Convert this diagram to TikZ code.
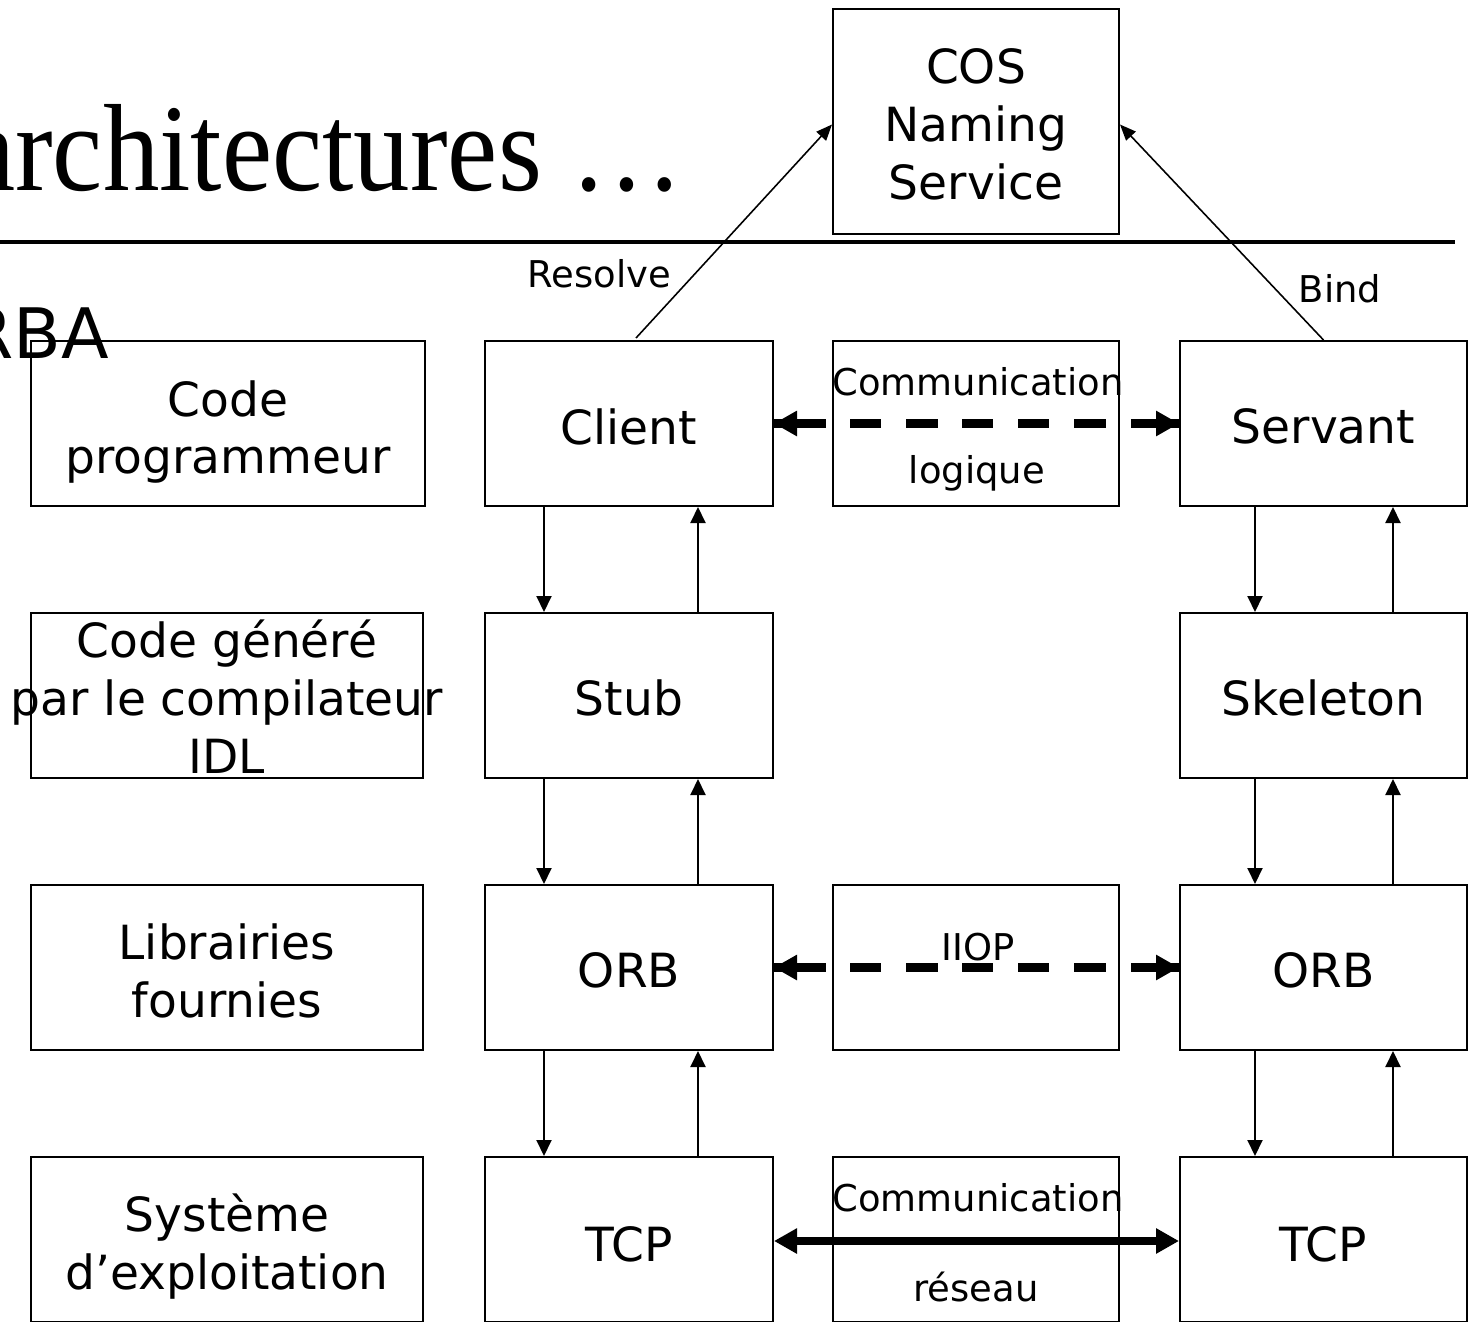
\documentclass[tikz,border=0pt]{standalone}
\usepackage{fontspec}
\setmainfont{DejaVu Sans}
\newfontfamily\titlefont[FakeStretch=0.91]{Liberation Serif}
\usetikzlibrary{arrows.meta}
\tikzset{
  box/.style={draw, line width=0.57pt, minimum width=#1, minimum height=1.65cm, inner sep=0pt},
  box/.default=2.88cm,
  bigtxt/.style={align=center, inner sep=0pt, font=\fontsize{13.4}{16.5}\selectfont},
  smalltxt/.style={inner sep=0pt, font=\fontsize{10.5}{12.6}\selectfont},
  varrow/.style={line width=0.57pt, -{Triangle[length=0.16cm,width=0.15cm]}},
  sarrow/.style={line width=0.45pt, -{Triangle[length=0.16cm,width=0.13cm]}},
  fatline/.style={line width=2.3pt},
  fattip/.style={line width=2.3pt, -{Triangle[length=0.23cm,width=0.24cm]}},
  dashpat/.style={line width=2.3pt, dash pattern=on 0.52cm off 0.24cm on 0.31cm off 0.25cm on 0.32cm off 0.24cm on 0.31cm off 0.25cm on 0.31cm off 0.25cm on 0.32cm off 0.25cm on 0.7cm}
}
\begin{document}
\begin{tikzpicture}
\useasboundingbox (0,0) rectangle (14.74,-13.22);
\clip (0,0) rectangle (14.74,-13.22);
\fill[white] (0,0) rectangle (14.74,-13.22);

% title
\node[anchor=base west, inner sep=0pt, font=\titlefont\fontsize{35.3}{40}\selectfont] (title) at (-0.355,-1.90) {architectures …};
\node[anchor=base east, inner sep=0pt, font=\fontsize{19.8}{23}\selectfont] (corba) at (1.10,-3.58) {CORBA};
\coordinate (rl) at (0,-2.42);
\coordinate (rr) at (14.55,-2.42);
\draw[line width=1.15pt] (rl) -- (rr);

% naming service
\node[draw, line width=0.57pt, minimum width=2.86cm, minimum height=2.25cm, inner sep=0pt] (cos) at (9.76,-1.215) {};
\node[bigtxt] (cost) at ([yshift=-0.03cm]cos.center) {COS\\Naming\\Service};

% left column
\node[box=3.94cm] (codeprog) at (2.28,-4.235) {};
\node[bigtxt] (codeprogt) at ([yshift=-0.085cm]codeprog.center) {Code\\programmeur};
\node[box=3.92cm] (codegen) at (2.27,-6.955) {};
\node[bigtxt] (codegent) at ([yshift=-0.01cm]codegen.center) {Code généré\\par le compilateur\\IDL};
\node[box=3.92cm] (lib) at (2.27,-9.675) {};
\node[bigtxt] (libt) at ([yshift=-0.03cm]lib.center) {Librairies\\fournies};
\node[box=3.92cm] (sys) at (2.27,-12.395) {};
\node[bigtxt] (syst) at ([yshift=-0.07cm]sys.center) {Système\\d’exploitation};

% client column
\node[box] (client) at (6.29,-4.235) {};
\node[bigtxt] (clientt) at ([yshift=-0.03cm]client.center) {Client};
\node[box] (stub) at (6.29,-6.955) {};
\node[bigtxt] (stubt) at ([yshift=-0.02cm]stub.center) {Stub};
\node[box] (orba) at (6.29,-9.675) {};
\node[bigtxt] (orbat) at ([yshift=-0.03cm]orba.center) {ORB};
\node[box] (tcpa) at (6.29,-12.395) {};
\node[bigtxt] (tcpat) at ([yshift=-0.05cm]tcpa.center) {TCP};

% middle column
\node[box=2.86cm] (logic) at (9.76,-4.235) {};
\node[smalltxt, anchor=base] (logict1) at (9.78,-3.95) {Communication};
\node[smalltxt, anchor=base] (logict2) at (9.77,-4.83) {logique};
\node[box=2.86cm] (iiop) at (9.76,-9.675) {};
\node[smalltxt, anchor=base] (iioptx) at (9.78,-9.60) {IIOP};
\node[box=2.86cm] (net) at (9.76,-12.395) {};
\node[smalltxt, anchor=base] (nett1) at (9.78,-12.11) {Communication};
\node[smalltxt, anchor=base] (nett2) at (9.76,-13.01) {réseau};

% right column
\node[box=2.87cm] (servant) at (13.235,-4.235) {};
\node[bigtxt] (servantt) at ([yshift=-0.03cm]servant.center) {Servant};
\node[box=2.87cm] (skel) at (13.235,-6.955) {};
\node[bigtxt] (skelt) at ([yshift=-0.02cm]skel.center) {Skeleton};
\node[box=2.87cm] (orbb) at (13.235,-9.675) {};
\node[bigtxt] (orbbt) at ([yshift=-0.03cm]orbb.center) {ORB};
\node[box=2.87cm] (tcpb) at (13.235,-12.395) {};
\node[bigtxt] (tcpbt) at ([yshift=-0.05cm]tcpb.center) {TCP};

% vertical arrows, client side
\draw[varrow] ([xshift=0.60cm]client.south west) -- ([xshift=0.60cm]stub.north west);
\draw[varrow] ([xshift=-0.76cm]stub.north east) -- ([xshift=-0.76cm]client.south east);
\draw[varrow] ([xshift=0.60cm]stub.south west) -- ([xshift=0.60cm]orba.north west);
\draw[varrow] ([xshift=-0.76cm]orba.north east) -- ([xshift=-0.76cm]stub.south east);
\draw[varrow] ([xshift=0.60cm]orba.south west) -- ([xshift=0.60cm]tcpa.north west);
\draw[varrow] ([xshift=-0.76cm]tcpa.north east) -- ([xshift=-0.76cm]orba.south east);

% vertical arrows, server side
\draw[varrow] ([xshift=0.76cm]servant.south west) -- ([xshift=0.76cm]skel.north west);
\draw[varrow] ([xshift=-0.75cm]skel.north east) -- ([xshift=-0.75cm]servant.south east);
\draw[varrow] ([xshift=0.76cm]skel.south west) -- ([xshift=0.76cm]orbb.north west);
\draw[varrow] ([xshift=-0.75cm]orbb.north east) -- ([xshift=-0.75cm]skel.south east);
\draw[varrow] ([xshift=0.76cm]orbb.south west) -- ([xshift=0.76cm]tcpb.north west);
\draw[varrow] ([xshift=-0.75cm]tcpb.north east) -- ([xshift=-0.75cm]orbb.south east);

% logical communication (dashed)
\draw[dashpat] (client.east) -- (servant.west);
\draw[fattip] ([xshift=0.3cm]client.east) -- (client.east);
\draw[fattip] ([xshift=-0.3cm]servant.west) -- (servant.west);

% IIOP (dashed)
\draw[dashpat] (orba.east) -- (orbb.west);
\draw[fattip] ([xshift=0.3cm]orba.east) -- (orba.east);
\draw[fattip] ([xshift=-0.3cm]orbb.west) -- (orbb.west);

% network communication (solid)
\draw[fatline, {Triangle[length=0.23cm,width=0.24cm]}-{Triangle[length=0.23cm,width=0.24cm]}] ([yshift=-0.015cm]tcpa.east) -- ([yshift=-0.015cm]tcpb.west);

% resolve / bind
\coordinate (rs) at (6.36,-3.38);
\draw[sarrow] (rs) -- ([yshift=-0.03cm]cos.west);
\draw[sarrow] (servant.north) -- ([yshift=-0.03cm]cos.east);
\node[smalltxt, anchor=base west] (resolve) at (5.27,-2.87) {Resolve};
\node[smalltxt, anchor=base west] (bind) at (12.98,-3.02) {Bind};
\end{tikzpicture}
\end{document}
